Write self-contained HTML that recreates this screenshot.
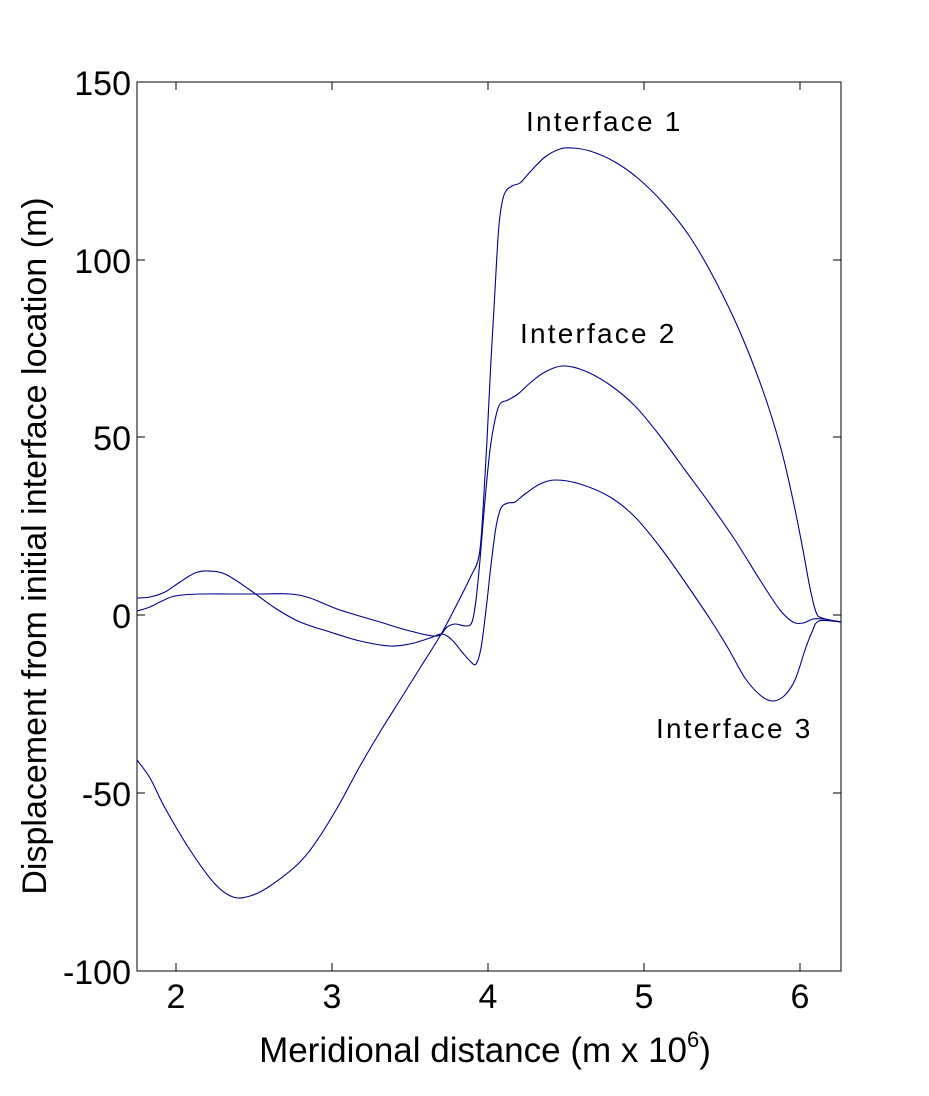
<!DOCTYPE html>
<html><head><meta charset="utf-8"><style>
html,body{margin:0;padding:0;background:#fff}
text{font-family:"Liberation Sans",sans-serif;fill:#000}
</style></head><body>
<svg width="929" height="1091" viewBox="0 0 929 1091" xmlns="http://www.w3.org/2000/svg">
<rect width="929" height="1091" fill="#fff"/>
<rect x="137" y="82" width="704" height="889" fill="none" stroke="#000" stroke-width="1"/>
<g stroke="#000" stroke-width="1">
<line x1="137" y1="82" x2="145" y2="82"/><line x1="841" y1="82" x2="833" y2="82"/>
<line x1="137" y1="260" x2="145" y2="260"/><line x1="841" y1="260" x2="833" y2="260"/>
<line x1="137" y1="437" x2="145" y2="437"/><line x1="841" y1="437" x2="833" y2="437"/>
<line x1="137" y1="615" x2="145" y2="615"/><line x1="841" y1="615" x2="833" y2="615"/>
<line x1="137" y1="793" x2="145" y2="793"/><line x1="841" y1="793" x2="833" y2="793"/>
<line x1="176" y1="971" x2="176" y2="963"/><line x1="176" y1="82" x2="176" y2="90"/>
<line x1="332" y1="971" x2="332" y2="963"/><line x1="332" y1="82" x2="332" y2="90"/>
<line x1="488" y1="971" x2="488" y2="963"/><line x1="488" y1="82" x2="488" y2="90"/>
<line x1="644" y1="971" x2="644" y2="963"/><line x1="644" y1="82" x2="644" y2="90"/>
<line x1="800" y1="971" x2="800" y2="963"/><line x1="800" y1="82" x2="800" y2="90"/>
</g>
<g font-size="34" text-anchor="end">
<text x="131" y="95">150</text><text x="131" y="273">100</text><text x="131" y="450">50</text>
<text x="131" y="628">0</text><text x="131" y="806">-50</text><text x="131" y="984">-100</text>
</g>
<g font-size="34" text-anchor="middle">
<text x="176" y="1008">2</text><text x="332" y="1008">3</text><text x="488" y="1008">4</text>
<text x="644" y="1008">5</text><text x="800" y="1008">6</text>
</g>
<text x="485" y="1062" font-size="35" text-anchor="middle">Meridional distance (m x 10<tspan font-size="22" dy="-15">6</tspan><tspan dy="15">)</tspan></text>
<text transform="translate(46,546) rotate(-90)" font-size="34" text-anchor="middle">Displacement from initial interface location (m)</text>
<g font-size="28" letter-spacing="2.2">
<text x="526" y="131">Interface  1</text>
<text x="520" y="343">Interface  2</text>
<text x="656" y="738">Interface  3</text>
</g>
<g fill="none" stroke="#00008b" stroke-width="1.1" stroke-linejoin="round">
<path id="p1"/><path id="p2"/><path id="p3"/>
</g>
</svg>
<script>
function cr(pts){var d="M"+pts[0][0]+","+pts[0][1];
for(var i=0;i<pts.length-1;i++){var p0=pts[i-1]||pts[i],p1=pts[i],p2=pts[i+1],p3=pts[i+2]||p2;
var c1=[p1[0]+(p2[0]-p0[0])/6,p1[1]+(p2[1]-p0[1])/6],c2=[p2[0]-(p3[0]-p1[0])/6,p2[1]-(p3[1]-p1[1])/6];
d+=" C"+c1[0].toFixed(1)+","+c1[1].toFixed(1)+" "+c2[0].toFixed(1)+","+c2[1].toFixed(1)+" "+p2[0]+","+p2[1];}return d;}
var a=[[137,760],[150,778],[165,808],[190,850],[215,884],[233,897],[250,896],[270,886],[300,862],[320,836],[340,803],[360,766],[380,732],[400,700],[420,668],[440,636],[455,608],[470,578],[479,556],[483,510],[487,440],[491,360],[495,290],[499,225],[504,195],[512,186],[520,183],[530,172],[545,157],[560,149],[572,148],[590,151],[615,162],[640,180],[665,205],[690,237],[715,280],[740,332],[762,388],[780,445],[793,500],[803,550],[810,588],[816,612],[822,618],[841,622]];
var b=[[137,611],[150,607],[162,601],[175,596],[200,594],[230,594],[260,594],[290,594],[310,598],[340,610],[380,622],[410,631],[437,636],[447,627],[455,624],[466,626],[472,622],[476,600],[480,560],[485,500],[490,450],[495,420],[500,404],[508,400],[518,394],[530,383],[545,372],[563,366],[585,371],[610,385],[635,406],[660,436],[685,470],[710,504],[735,540],[760,580],[780,610],[793,622],[803,623],[813,619],[823,619],[841,622]];
var c=[[137,598],[150,597],[165,592],[180,582],[195,573],[207,571],[225,574],[250,590],[275,608],[300,622],[330,632],[360,641],[390,646],[410,644],[430,638],[442,634],[452,640],[462,652],[470,661],[476,664],[481,648],[486,610],[491,565],[496,527],[501,508],[508,503],[515,502],[525,494],[540,484],[556,480],[580,484],[610,497],[635,517],[660,547],[685,582],[710,619],[728,648],[745,678],[760,695],[772,701],[784,696],[795,680],[805,650],[812,632],[819,621],[841,622]];
document.getElementById("p1").setAttribute("d",cr(a));
document.getElementById("p2").setAttribute("d",cr(b));
document.getElementById("p3").setAttribute("d",cr(c));
</script>
</body></html>
